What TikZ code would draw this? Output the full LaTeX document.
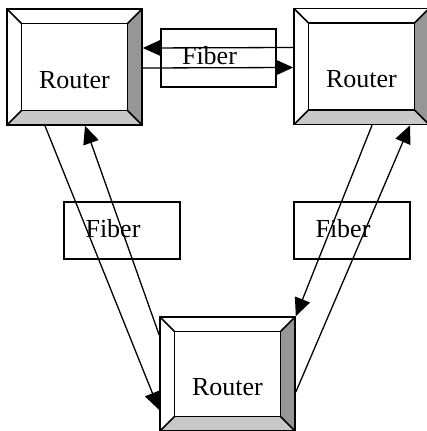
\documentclass[tikz,border=0pt]{standalone}
\usepackage{fontspec}
\setmainfont{Liberation Serif}
\usetikzlibrary{arrows.meta,calc}

\definecolor{bevelshade}{RGB}{150,150,150}
\definecolor{bevellight}{RGB}{200,200,200}
\def\bevelw{14.5pt}

\tikzset{
  router/.style={
    draw, line width=1.6pt, minimum width=135pt, minimum height=116pt,
    inner sep=0pt, font=\fontsize{26}{30}\selectfont,
    text height=42pt, text depth=0pt,
    path picture={
      \path (path picture bounding box.south west) coordinate (bsw)
            (path picture bounding box.north east) coordinate (bne);
      \coordinate (bse) at (bsw -| bne);
      \coordinate (bnw) at (bne -| bsw);
      % lower bevel
      \fill[bevellight] (bsw) -- (bse) -- ($(bse)+(-\bevelw,\bevelw)$)
        -- ($(bsw)+(\bevelw,\bevelw)$) -- cycle;
      % right bevel
      \fill[bevelshade] (bse) -- (bne) -- ($(bne)+(-\bevelw,-\bevelw)$)
        -- ($(bse)+(-\bevelw,\bevelw)$) -- cycle;
      % face and corner mitres
      \draw[line width=1.6pt] ($(bsw)+(\bevelw,\bevelw)$) rectangle ($(bne)+(-\bevelw,-\bevelw)$);
      \draw[line width=1.6pt] (bsw) -- ++(\bevelw,\bevelw)
        (bse) -- ++(-\bevelw,\bevelw)
        (bne) -- ++(-\bevelw,-\bevelw)
        (bnw) -- ++(\bevelw,-\bevelw);
    }},
  fiber/.style={
    draw, line width=1.6pt, minimum width=116pt, minimum height=57pt,
    inner sep=0pt, font=\fontsize{26}{30}\selectfont,
    text height=18pt, text depth=5pt},
  link/.style={line width=1.3pt, -{Triangle[length=18pt,width=16pt]}},
}

\begin{document}
\begin{tikzpicture}[x=1pt, y=-1pt]
  \useasboundingbox (0,0) rectangle (427,431);

  % fiber labels
  \node[fiber, minimum width=115pt, minimum height=58pt] (f1) at (218.5,58) {Fiber\kern18pt};
  \node[fiber] (f2) at (122,230.5) {Fiber\kern18pt};
  \node[fiber] (f3) at (352,230.5) {Fiber\kern18pt};

  % routers
  \node[router] (r1) at (74.5,67) {Router};
  \node[router] (r2) at (361.5,66.5) {Router};
  \node[router, minimum height=114pt] (r3) at (227.5,374) {Router};

  % links between the top routers
  \draw[link] ([yshift=19pt]r2.west) -- ([yshift=19pt]r1.east);
  \draw[link] ([yshift=-1pt]r1.east) -- ([yshift=-1pt]r2.west);

  % links on the left side
  \draw[link] ([xshift=-29.5pt]r1.south) -- ([yshift=-36pt]r3.west);
  \draw[link] ([yshift=39pt]r3.west) -- ([xshift=10.5pt]r1.south);

  % links on the right side
  \draw[link] ([xshift=10.5pt]r2.south) -- (r3.north east);
  \draw[link] ([yshift=-18pt]r3.east) -- ([xshift=48.5pt]r2.south);
\end{tikzpicture}
\end{document}
